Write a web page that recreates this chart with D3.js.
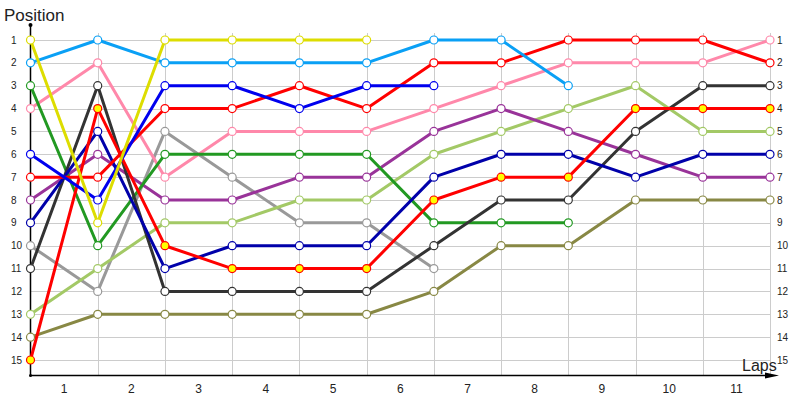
<!DOCTYPE html>
<html>
<head>
<meta charset="utf-8">
<script src="https://cdn.jsdelivr.net/npm/d3@7"></script>
<style>
  body { margin: 0; background: #fff; }
  text { font-family: "Liberation Sans", Arial, sans-serif; fill: #222; }
</style>
</head>
<body>
<div id="chart"></div>
<script>
// laps shown under the x axis, positions on the y axis
const laps = [1, 2, 3, 4, 5, 6, 7, 8, 9, 10, 11];
const positions = [1, 2, 3, 4, 5, 6, 7, 8, 9, 10, 11, 12, 13, 14, 15];

// position of each driver at every checkpoint (0..11)
const yellow    = [1, 9, 1, 1, 1, 1];
const skyBlue   = [2, 1, 2, 2, 2, 2, 1, 1, 3];
const green     = [3, 10, 6, 6, 6, 6, 9, 9, 9];
const pink      = [4, 2, 7, 5, 5, 5, 4, 3, 2, 2, 2, 1];
const blue      = [6, 8, 3, 3, 4, 3, 3];
const red       = [7, 7, 4, 4, 3, 4, 2, 2, 1, 1, 1, 2];
const purple    = [8, 6, 8, 8, 7, 7, 5, 4, 5, 6, 7, 7];
const navy      = [9, 5, 11, 10, 10, 10, 7, 6, 6, 7, 6, 6];
const black     = [11, 3, 12, 12, 12, 12, 10, 8, 8, 5, 3, 3];
const gray      = [10, 12, 5, 7, 9, 9, 11];
const lightGreen = [13, 11, 9, 9, 8, 8, 6, 5, 4, 3, 5, 5];
const redYellow = [15, 4, 10, 11, 11, 11, 8, 7, 7, 4, 4, 4];
const olive     = [14, 13, 13, 13, 13, 13, 12, 10, 10, 8, 8, 8];

const series = [
  { values: olive, color: '#888844', fill: '#fff' },
  { values: gray, color: '#999999', fill: '#fff' },
  { values: lightGreen, color: '#a3c966', fill: '#fff' },
  { values: purple, color: '#993399', fill: '#fff' },
  { values: pink, color: '#ff88aa', fill: '#fff' },
  { values: green, color: '#229922', fill: '#fff' },
  { values: black, color: '#333333', fill: '#fff' },
  { values: navy, color: '#0000aa', fill: '#fff' },
  { values: redYellow, color: '#ff0000', fill: '#ffff00' },
  { values: red, color: '#ff0000', fill: '#fff' },
  { values: blue, color: '#0000ee', fill: '#fff' },
  { values: skyBlue, color: '#0aa0f5', fill: '#fff' },
  { values: yellow, color: '#dddd00', fill: '#fff' }
];

const width = 800, height = 400;
const svg = d3.select('#chart').append('svg')
    .attr('width', width).attr('height', height);

const x = d3.scaleLinear().domain([0, 11]).range([30.5, 770]);
const y = d3.scaleLinear().domain([1, 15]).range([40, 360]);
const axisY = 375.5, axisTop = 25;

// grid
svg.append('g').selectAll('line.h').data(positions).join('line')
    .attr('x1', x(0)).attr('x2', x(11))
    .attr('y1', d => Math.round(y(d)) + 0.5).attr('y2', d => Math.round(y(d)) + 0.5)
    .attr('stroke', '#cccccc');
svg.append('g').selectAll('line.v').data(d3.range(1, 12)).join('line')
    .attr('x1', d => Math.round(x(d)) + 0.5).attr('x2', d => Math.round(x(d)) + 0.5)
    .attr('y1', 33).attr('y2', axisY)
    .attr('stroke', '#cccccc');

// axes
svg.append('line').attr('x1', x(0)).attr('x2', x(0))
    .attr('y1', axisTop).attr('y2', axisY).attr('stroke', '#000').attr('stroke-width', 1.5);
svg.append('line').attr('x1', x(0)).attr('x2', 770)
    .attr('y1', axisY).attr('y2', axisY).attr('stroke', '#000').attr('stroke-width', 1.5);
svg.append('circle').attr('cx', x(0)).attr('cy', axisTop).attr('r', 2).attr('fill', '#000');
svg.append('circle').attr('cx', x(0)).attr('cy', axisY).attr('r', 1.5).attr('fill', '#000');
svg.append('path').attr('d', `M765,${axisY - 3} L779,${axisY} L765,${axisY + 3} Z`).attr('fill', '#000');

// tick labels
svg.append('g').selectAll('text').data(positions).join('text')
    .attr('x', 11).attr('y', d => y(d) + 3.5)
    .style('font-size', '10px').text(d => d);
svg.append('g').selectAll('text').data(positions).join('text')
    .attr('x', 777).attr('y', d => y(d) + 3.5)
    .style('font-size', '10px').text(d => d);
svg.append('g').selectAll('text').data(laps).join('text')
    .attr('x', d => x(d - 0.5)).attr('y', 393)
    .attr('text-anchor', 'middle')
    .style('font-size', '12px').text(d => d);

svg.append('text').attr('x', 4).attr('y', 21).style('font-size', '17px').text('Position');
svg.append('text').attr('x', 742).attr('y', 371).style('font-size', '16px').text('Laps');

// lines
const line = d3.line().x((d, i) => x(i)).y(d => y(d));
svg.append('g').selectAll('path').data(series).join('path')
    .attr('d', d => line(d.values))
    .attr('fill', 'none')
    .attr('stroke', d => d.color)
    .attr('stroke-width', 3)
    .attr('stroke-linejoin', 'round');

// markers
const marks = svg.append('g').selectAll('g').data(series).join('g');
marks.selectAll('circle').data(d => d.values.map(v => ({ v, s: d }))).join('circle')
    .attr('cx', (d, i) => x(i)).attr('cy', d => y(d.v))
    .attr('r', 4)
    .attr('fill', d => d.s.fill)
    .attr('stroke', d => d.s.color)
    .attr('stroke-width', 1.2);
</script>
</body>
</html>
